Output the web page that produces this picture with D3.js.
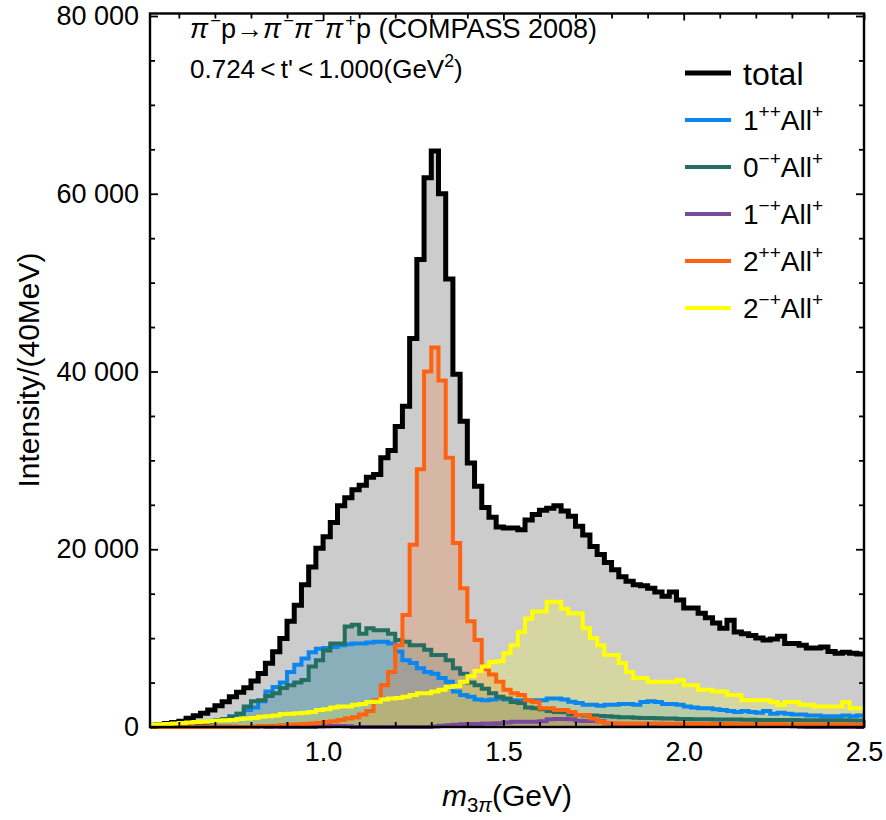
<!DOCTYPE html>
<html>
<head>
<meta charset="utf-8">
<script src="https://cdn.jsdelivr.net/npm/d3@7"></script>
<style>
  body { margin: 0; background: #fff; }
  text { font-family: "Liberation Sans", Arial, sans-serif; }
</style>
</head>
<body>
<svg id="chart"></svg>
<script>
/* global d3 */
const width = 886
const height = 820
const margin = { top: 13.5, right: 22, bottom: 93, left: 150 }

// 20 MeV bins starting at 0.52 GeV
const binStart = 0.52
const binWidth = 0.02

const total = [
  200, 280, 380, 500, 660, 980, 1260, 1540, 1900, 2390,
  2840, 3400, 3910, 4420, 5170, 6030, 7160, 8470, 9970, 11900,
  13700, 16000, 18000, 20100, 21400, 23000, 24900, 25800, 26700, 27200,
  28100, 28400, 30300, 31100, 33800, 36100, 43700, 52600, 61800, 64800,
  60000, 50400, 39700, 34400, 29700, 27100, 24700, 23600, 22500, 22400,
  22400, 22200, 23300, 23900, 24400, 24600, 24900, 24300, 23700, 22600,
  21600, 20300, 19400, 18500, 17700, 16900, 16400, 16000, 15900, 15600,
  15200, 14700, 15200, 14300, 13400, 13400, 12800, 12300, 11700, 11100,
  12000, 10700, 10500, 10300, 10000, 9800, 9900, 10200, 9400, 9400,
  9200, 8900, 8900, 9000, 8500, 8300, 8400, 8300, 8200
]
const wave1pp = [
  80, 120, 160, 200, 250, 300, 380, 450, 550, 700,
  900, 1200, 1500, 1900, 2200, 2900, 4000, 4500, 5000, 6200,
  7000, 7700, 8400, 8800, 8900, 9000, 9200, 9300, 9400, 9400,
  9500, 9600, 9600, 9400, 8500, 7500, 7200, 6600, 6200, 6000,
  5500, 5100, 4000, 3600, 3400, 3100, 3000, 3100, 3200, 3100,
  3000, 3000, 3000, 3000, 3000, 3200, 3200, 3100, 2850, 2700,
  2500, 2500, 2400, 2500, 2500, 2600, 2600, 2500, 2800, 2900,
  2800, 2600, 2600, 2500, 2300, 2200, 2100, 2100, 2000, 1900,
  1800, 1700, 1800, 1700, 1600, 1800, 1500, 1600, 1500, 1400,
  1400, 1300, 1300, 1200, 1200, 1200, 1300, 1200, 1300
]
const wave0mp = [
  100, 150, 200, 250, 300, 350, 400, 500, 600, 750,
  900, 1150, 1500, 2300, 2900, 3000, 3500, 3800, 4400, 4700,
  5000, 5300, 6800, 7500, 8600, 9400, 9400, 11300, 11500, 10500,
  11100, 10900, 10900, 10500, 9800, 9600, 9200, 9200, 8700, 8100,
  8100, 7500, 6600, 6000, 5000, 4700, 4300, 3800, 3400, 3200,
  2800, 2700, 2200, 2100, 2000, 1800, 1700, 1650, 1400, 1350,
  1300, 1300, 1250, 1200, 1150, 1100, 1100, 1050, 1000, 1000,
  980, 950, 950, 900, 900, 880, 870, 860, 850, 850,
  840, 830, 820, 810, 800, 800, 790, 790, 780, 780,
  770, 770, 760, 760, 750, 750, 750, 740, 740
]
const wave1mp = [
  30, 30, 30, 40, 40, 40, 50, 50, 50, 60,
  60, 40, 0, 0, 0, 60, 0, 40, 0, 0,
  0, 0, 0, 60, 80, 100, 100, 80, 0, 0,
  0, 0, 0, 0, 0, 0, 0, 0, 0, 50,
  150, 200, 250, 300, 330, 350, 400, 400, 420, 500,
  580, 600, 600, 600, 650, 880, 900, 900, 880, 700,
  680, 670, 650, 400, 300, 280, 260, 250, 250, 240,
  240, 230, 230, 220, 220, 210, 210, 200, 200, 200,
  190, 190, 180, 180, 170, 170, 160, 150, 120, 80,
  40, 0, 0, 0, 0, 0, 0, 0, 0
]
const wave2pp = [
  0, 0, 0, 0, 0, 0, 0, 0, 0, 0,
  0, 0, 0, 0, 50, 80, 100, 150, 200, 250,
  300, 350, 400, 450, 550, 650, 800, 950, 1100, 1400,
  1800, 3000, 4700, 6200, 9200, 12600, 20500, 29000, 40000, 42700,
  39000, 30300, 20700, 15600, 11900, 9800, 6500, 5900, 5100, 4200,
  3800, 3600, 3000, 2800, 2100, 2100, 1900, 1900, 1700, 1350,
  1350, 950, 600, 450, 420, 400, 400, 400, 380, 380,
  380, 370, 370, 360, 360, 350, 350, 340, 340, 330,
  330, 320, 320, 310, 310, 300, 300, 300, 290, 290,
  290, 280, 280, 280, 270, 270, 270, 260, 260
]
const wave2mp = [
  250, 300, 350, 400, 450, 500, 550, 600, 650, 700,
  750, 800, 900, 950, 1000, 1150, 1200, 1300, 1450, 1500,
  1550, 1600, 1700, 1900, 2000, 2200, 2300, 2300, 2500, 2600,
  2800, 2850, 3100, 3200, 3250, 3400, 3600, 3800, 3800, 4000,
  4200, 4500, 4600, 5100, 5700, 6300, 6800, 7300, 7400, 8300,
  9200, 10700, 12200, 13000, 13000, 14100, 14100, 13300, 12800, 12800,
  11100, 10000, 9200, 8100, 8100, 7200, 6200, 5500, 5500, 5100,
  5100, 5100, 5100, 5300, 4700, 4700, 4200, 4200, 4000, 4000,
  3600, 3600, 3000, 3000, 3000, 3000, 2800, 2500, 2800, 2800,
  2500, 2500, 2300, 2300, 2300, 2300, 2800, 2100, 2100
]

const xMajor = [1.0, 1.5, 2.0, 2.5]
const yMajor = [0, 20000, 40000, 60000, 80000]

// legend labels: [text, style] pieces
const labels = [
  [['total']],
  [['1'], ['++', 'sup'], ['All'], ['+', 'sup']],
  [['0'], ['\u2212+', 'sup'], ['All'], ['+', 'sup']],
  [['1'], ['\u2212+', 'sup'], ['All'], ['+', 'sup']],
  [['2'], ['++', 'sup'], ['All'], ['+', 'sup']],
  [['2'], ['\u2212+', 'sup'], ['All'], ['+', 'sup']]
]
const series = [total, wave1pp, wave0mp, wave1mp, wave2pp, wave2mp]
const colors = ['#000000', '#0a86ee', '#256f60', '#7a4a9c', '#ff6210', '#ffff00']

const svg = d3.select('#chart').attr('width', width).attr('height', height)

const x = d3.scaleLinear()
  .domain([binStart, 2.5])
  .range([margin.left, width - margin.right])
const y = d3.scaleLinear()
  .domain([0, 80280])
  .range([727, margin.top])

const n = total.length
const edges = d3.range(n + 1).map(i => binStart + i * binWidth)
const toPoints = vals => vals.map((v, i) => [edges[i], v]).concat([[edges[n], vals[n - 1]]])

const area = d3.area()
  .x(d => x(d[0]))
  .y0(y(0))
  .y1(d => y(d[1]))
  .curve(d3.curveStepAfter)
const line = d3.line()
  .x(d => x(d[0]))
  .y(d => y(d[1]))
  .curve(d3.curveStepAfter)

/** fills first, then outlines on top */
svg.append('g').selectAll('path')
  .data(series)
  .enter()
  .append('path')
  .attr('d', d => area(toPoints(d)))
  .attr('fill', (d, i) => i === 0 ? '#cccccc' : colors[i])
  .attr('fill-opacity', (d, i) => i === 0 ? 1 : 0.2)

svg.append('g').selectAll('path')
  .data(series)
  .enter()
  .append('path')
  .attr('d', d => line(toPoints(d)))
  .attr('fill', 'none')
  .attr('stroke', (d, i) => colors[i])
  .attr('stroke-width', (d, i) => i === 0 ? 5 : 4)
  .attr('stroke-linejoin', 'miter')

/** axes, ticks point inwards on all four sides */
const xMinor = d3.range(6, 25).map(v => v / 10).filter(v => !xMajor.includes(v))
const yMinor = d3.range(5000, 80000, 5000).filter(v => !yMajor.includes(v))
const fmtY = d => d === 0 ? '0' : d3.format(',')(d).replace(',', ' ')

const axes = svg.append('g')
const addAxis = (axis, tx, ty) => {
  const g = axes.append('g').attr('transform', `translate(${tx},${ty})`).call(axis)
  g.select('.domain').remove()
  g.selectAll('line').attr('stroke', '#000').attr('stroke-width', 1.8)
  g.selectAll('text').attr('font-family', '"Liberation Sans", Arial, sans-serif').attr('font-size', 27).attr('fill', '#000')
  return g
}

addAxis(d3.axisBottom(x).tickValues(xMajor).tickSize(-7).tickPadding(15).tickFormat(d3.format('.1f')), 0, 727)
addAxis(d3.axisBottom(x).tickValues(xMinor).tickSize(-5).tickFormat(''), 0, 727)
addAxis(d3.axisTop(x).tickValues(xMajor).tickSize(-7).tickFormat(''), 0, margin.top)
addAxis(d3.axisTop(x).tickValues(xMinor).tickSize(-5).tickFormat(''), 0, margin.top)
addAxis(d3.axisLeft(y).tickValues(yMajor).tickSize(-8).tickPadding(11).tickFormat(fmtY), margin.left, 0)
addAxis(d3.axisLeft(y).tickValues(yMinor).tickSize(-5).tickFormat(''), margin.left, 0)
addAxis(d3.axisRight(y).tickValues(yMajor).tickSize(-8).tickFormat(''), width - margin.right, 0)
addAxis(d3.axisRight(y).tickValues(yMinor).tickSize(-5).tickFormat(''), width - margin.right, 0)

svg.append('rect')
  .attr('x', margin.left)
  .attr('y', margin.top)
  .attr('width', width - margin.right - margin.left)
  .attr('height', 727 - margin.top)
  .attr('fill', 'none')
  .attr('stroke', '#000')
  .attr('stroke-width', 2.4)

/** rich text with super/subscripts and italics */
const rich = (sel, parts, size) => {
  let shift = 0
  let prev = null
  parts.forEach(([t, k]) => {
    const target = k === 'sup' ? -0.42 * size : k === 'sub' || k === 'subit' ? 0.2 * size : 0
    const s = sel.append('tspan').text(t).attr('dy', target - shift)
    shift = target
    if (k === 'sup' || k === 'sub' || k === 'subit') s.attr('font-size', size * 0.68)
    if (k === 'it' || k === 'subit') s.attr('font-style', 'italic')
    // italic letters lean right: push the following script a little
    if (prev === 'it' && k === 'sup') s.attr('dx', size * 0.08)
    prev = k
  })
}

const title1 = svg.append('text').attr('x', 190).attr('y', 38).attr('font-size', 27)
rich(title1, [['\u03c0', 'it'], ['\u2212', 'sup'], ['p\u2192'], ['\u03c0', 'it'], ['\u2212', 'sup'],
  ['\u03c0', 'it'], ['\u2212', 'sup'], ['\u03c0', 'it'], ['+', 'sup'], ['p (COMPASS 2008)']], 27)

const title2 = svg.append('text').attr('x', 190).attr('y', 78).attr('font-size', 26)
rich(title2, [['0.724\u2009<\u2009t\'\u2009<\u20091.000(GeV'], ['2', 'sup'], [')']], 26)

/** legend */
const legendY = [73, 120, 167, 214, 261, 308]
const legend = svg.append('g')
labels.forEach((parts, i) => {
  legend.append('line')
    .attr('x1', 685).attr('x2', 731)
    .attr('y1', legendY[i]).attr('y2', legendY[i])
    .attr('stroke', colors[i])
    .attr('stroke-width', i === 0 ? 5 : 4)
  const size = i === 0 ? 32 : 28
  const t = legend.append('text')
    .attr('x', 743)
    .attr('y', legendY[i] + size * 0.36)
    .attr('font-size', size)
  rich(t, parts, size)
})

/** axis titles */
const xTitle = svg.append('text')
  .attr('x', 507).attr('y', 806)
  .attr('text-anchor', 'middle')
  .attr('font-size', 30)
rich(xTitle, [['m', 'it'], ['3', 'sub'], ['\u03c0', 'subit'], ['(GeV)']], 30)
xTitle.selectAll('tspan').filter((d, i) => i === 2).attr('dy', 0)

svg.append('text')
  .attr('transform', 'translate(39,370) rotate(-90)')
  .attr('text-anchor', 'middle')
  .attr('font-size', 30)
  .text('Intensity/(40MeV)')
</script>
</body>
</html>
